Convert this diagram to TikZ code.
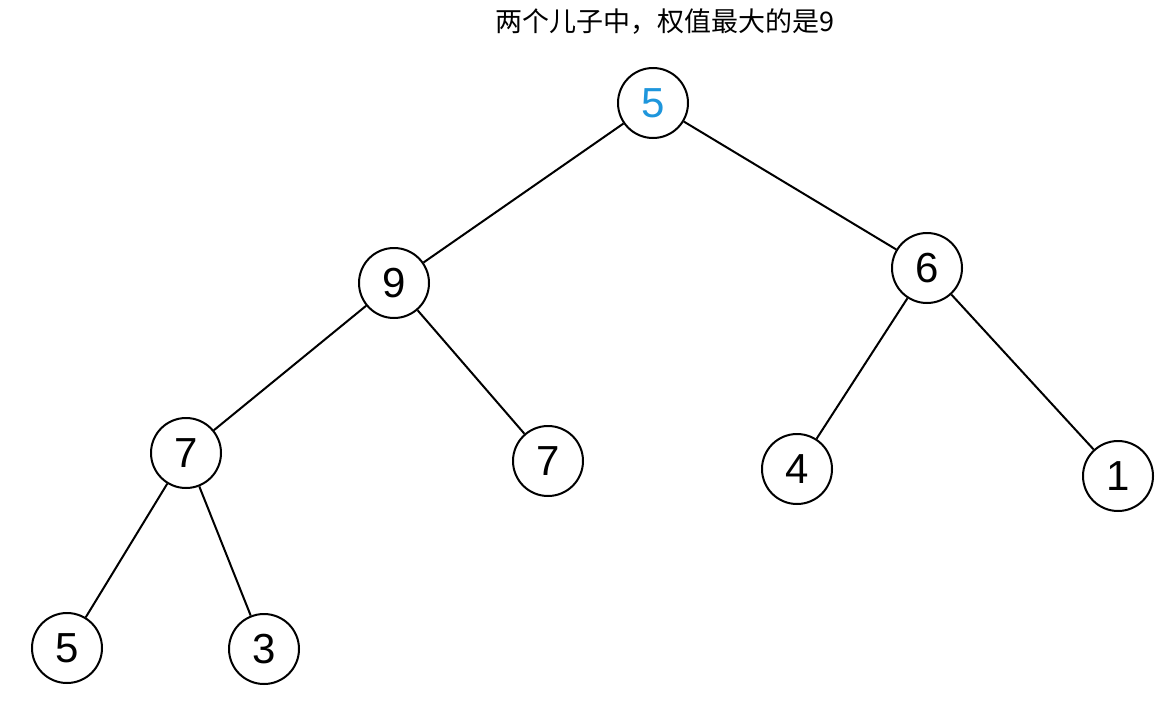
\documentclass[tikz,border=0pt]{standalone}
\usepackage{fontspec}
\setmainfont{Liberation Sans}
\newfontfamily\cjk{Noto Sans CJK SC}
\definecolor{rootblue}{RGB}{30,150,220}
\begin{document}
\begin{tikzpicture}[x=1pt, y=-1pt,
    every node/.style={font=\fontsize{42}{44}\selectfont},
    vertex/.style={draw, circle, line width=2pt, minimum size=70pt, inner sep=0pt},
    edge/.style={line width=2pt}]
    \useasboundingbox (0,0) rectangle (1172,704);
    % title
    \node[font=\cjk\fontsize{27}{29}\selectfont] (title) at (665,22) {两个儿子中，权值最大的是9};
    % tree
    \node[vertex, text=rootblue] (root) at (653,103) {5};
    \node[vertex] (nine) at (394,283) {9};
    \node[vertex] (six) at (927,268) {6};
    \node[vertex] (sevenL) at (186,453) {7};
    \node[vertex] (sevenR) at (548,461) {7};
    \node[vertex] (four) at (797,469) {4};
    \node[vertex] (one) at (1118,476) {1};
    \node[vertex] (fiveL) at (67,648) {5};
    \node[vertex] (three) at (264,649) {3};
    % edges
    \draw[edge] (root) -- (nine);
    \draw[edge] (root) -- (six);
    \draw[edge] (nine) -- (sevenL);
    \draw[edge] (nine) -- (sevenR);
    \draw[edge] (six) -- (four);
    \draw[edge] (six) -- (one);
    \draw[edge] (sevenL) -- (fiveL);
    \draw[edge] (sevenL) -- (three);
\end{tikzpicture}
\end{document}
